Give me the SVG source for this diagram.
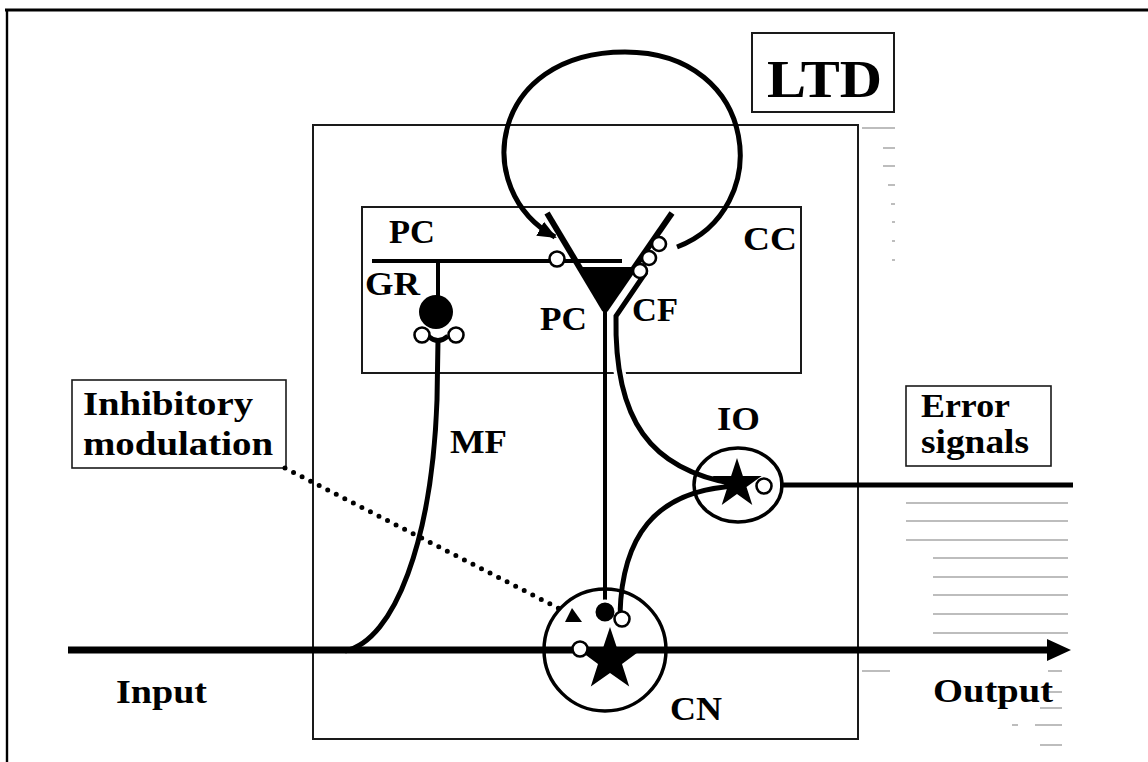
<svg xmlns="http://www.w3.org/2000/svg" width="1148" height="762" viewBox="0 0 1148 762">
<style>
  .t { font-family: "Liberation Serif", "Times New Roman", serif; font-weight: bold; font-size: 33px; fill: #000; }
  .big { font-size: 53px; }
  .box { fill: none; stroke: #1a1a1a; stroke-width: 2; }
  .thin { fill: none; stroke: #1a1a1a; stroke-width: 1.6; }
  .fiber { fill: none; stroke: #000; stroke-width: 5; stroke-linecap: butt; }
  .axon { fill: none; stroke: #000; stroke-width: 4; }
  .syn { fill: #fff; stroke: #000; stroke-width: 2.6; }
  .blk { fill: #000; }
  .ring { fill: none; stroke: #000; stroke-width: 3.5; }
  .gray { stroke: #a8a8a8; stroke-width: 1.4; fill: none; }
  .dots { fill: none; stroke: #000; stroke-width: 5; stroke-linecap: round; stroke-dasharray: 0 9.6; }
</style>
<defs>
  <marker id="ah" markerUnits="userSpaceOnUse" markerWidth="20" markerHeight="16" refX="17" refY="8" orient="auto">
    <path d="M0,0 L19,8 L0,16 Z" fill="#000"/>
  </marker>
</defs>
<rect width="1148" height="762" fill="#fff"/>

<!-- page frame -->
<g id="frame">
  <line x1="5" y1="10" x2="1148" y2="10" stroke="#000" stroke-width="3"/>
  <line x1="7" y1="9" x2="7" y2="762" stroke="#000" stroke-width="2.4"/>
</g>

<!-- scan artifacts -->
<g id="artifacts">
  <path class="gray" d="M862,128H895 M883,148H895 M883,166H895 M888,185H895 M891,204H895 M892,222H895 M892,241H895 M892,260H895"/>
  <path class="gray" d="M906,503H1068 M906,521H1068 M906,540H1068 M933,558H1068 M933,577H1068 M933,595H1068 M933,614H1068 M933,633H1068"/>
  <path class="gray" d="M862,671H890 M1048,671H1062 M1048,692H1062 M1040,708H1062 M1012,725H1018 M1035,725H1062 M1040,745H1062"/>
</g>

<!-- containers -->
<g id="main-box"><rect class="box" x="313" y="125" width="545" height="614"/></g>
<g id="cc-box"><rect class="box" x="362" y="207" width="439" height="166"/>
  <text class="t" x="743" y="250" textLength="54" lengthAdjust="spacingAndGlyphs">CC</text></g>
<g id="ltd-box"><rect class="box" x="752" y="33" width="142" height="79"/>
  <text class="t big" x="767" y="97" textLength="115" lengthAdjust="spacingAndGlyphs">LTD</text></g>
<g id="inhibitory-box"><rect class="thin" x="72" y="380" width="214" height="88"/>
  <text class="t" x="83" y="415" textLength="170" lengthAdjust="spacingAndGlyphs">Inhibitory</text>
  <text class="t" x="83" y="455" textLength="190" lengthAdjust="spacingAndGlyphs">modulation</text></g>
<g id="error-box"><rect class="thin" x="906" y="386" width="145" height="80"/>
  <text class="t" x="921" y="417" textLength="89" lengthAdjust="spacingAndGlyphs">Error</text>
  <text class="t" x="921" y="453" textLength="108" lengthAdjust="spacingAndGlyphs">signals</text></g>

<!-- Purkinje cell -->
<g id="pc">
  <line x1="547" y1="213" x2="605" y2="310" stroke="#000" stroke-width="6"/>
  <line x1="605" y1="310" x2="672" y2="213" stroke="#000" stroke-width="6"/>
  <polygon class="blk" points="579,267 635,267 605,311"/>
  <line class="axon" x1="605" y1="308" x2="605" y2="605"/>
  <text class="t" x="540" y="330" textLength="47" lengthAdjust="spacingAndGlyphs">PC</text>
</g>

<!-- connectors -->
<g id="connectors">
  <!-- LTD loop -->
  <path class="fiber" d="M677,247 C775,210 760,52 625,52 C490,52 470,190 555,237" marker-end="url(#ah)"/>
  <!-- parallel fibre -->
  <line class="axon" x1="372" y1="261" x2="622" y2="261"/>
  <!-- granule axon -->
  <line class="axon" x1="438" y1="261" x2="438" y2="300"/>
  <!-- mossy fibre -->
  <path class="fiber" d="M428,336 Q438,345 448,336"/>
  <path class="fiber" d="M438,340 L437,400 C432,540 395,640 345,651"/>
  <!-- climbing fibre with white casing -->
  <path d="M646,272 L616,316 C614,420 650,470 735,484" fill="none" stroke="#fff" stroke-width="12"/>
  <path class="fiber" d="M646,272 L616,316 C614,420 650,470 735,484"/>
  <!-- CN to IO -->
  <path class="fiber" d="M620,614 C622,540 652,490 737,486"/>
  <!-- input / output -->
  <line x1="68" y1="650" x2="1050" y2="650" stroke="#000" stroke-width="7"/>
  <polygon class="blk" points="1047,639 1071,650 1047,661"/>
  <!-- error signals -->
  <line x1="780" y1="485" x2="1073" y2="485" stroke="#000" stroke-width="5"/>
  <!-- inhibitory modulation -->
  <path class="dots" d="M285,468 L562,610"/>
  <polygon class="blk" points="572,608 582,622 565,622"/>
</g>

<!-- parallel fibre synapse & climbing fibre terminals -->
<g id="pf-synapse">
  <circle class="syn" cx="557" cy="259" r="7.5"/>
  <text class="t" x="389" y="243" textLength="46" lengthAdjust="spacingAndGlyphs">PC</text>
</g>
<g id="cf">
  <circle class="syn" cx="640" cy="271" r="7"/>
  <circle class="syn" cx="649" cy="258" r="7"/>
  <circle class="syn" cx="659" cy="244" r="7"/>
  <text class="t" x="632" y="321" textLength="46" lengthAdjust="spacingAndGlyphs">CF</text>
</g>

<!-- granule cell -->
<g id="gr">
  <circle class="blk" cx="436" cy="312" r="17"/>
  <circle class="syn" cx="422" cy="335" r="7.5"/>
  <circle class="syn" cx="456" cy="335" r="7.5"/>
  <text class="t" x="365" y="295" textLength="55" lengthAdjust="spacingAndGlyphs">GR</text>
</g>

<g id="mf-label"><text class="t" x="450" y="453" textLength="57" lengthAdjust="spacingAndGlyphs">MF</text></g>

<!-- inferior olive -->
<g id="io">
  <ellipse class="ring" cx="738" cy="485" rx="44" ry="37"/>
  <polygon class="blk" points="737,458 742.9,475.9 761.7,476 746.5,487.1 752.3,505 737,494 721.7,505 727.5,487.1 712.3,476 731.1,475.9"/>
  <circle class="syn" cx="764" cy="486" r="7.5"/>
  <text class="t" x="717" y="430" textLength="43" lengthAdjust="spacingAndGlyphs">IO</text>
</g>

<!-- cerebellar nucleus -->
<g id="cn">
  <circle class="ring" cx="605" cy="650" r="61"/>
  <polygon class="blk" points="610,627 617.5,649.6 641.3,649.8 622,663.9 629.2,686.6 610,673 590.8,686.6 598,663.9 578.7,649.8 602.5,649.6"/>
  <circle cx="605" cy="612" r="11" fill="#000" stroke="#fff" stroke-width="3"/>
  <circle cx="622" cy="619" r="7.5" fill="#fff" stroke="#000" stroke-width="2.6"/>
  <circle class="syn" cx="580" cy="649" r="7.5"/>
  <text class="t" x="670" y="720" textLength="52" lengthAdjust="spacingAndGlyphs">CN</text>
</g>

<g id="io-labels">
  <text class="t" x="116" y="703" textLength="91" lengthAdjust="spacingAndGlyphs">Input</text>
  <text class="t" x="933" y="702" textLength="120" lengthAdjust="spacingAndGlyphs">Output</text>
</g>
</svg>
